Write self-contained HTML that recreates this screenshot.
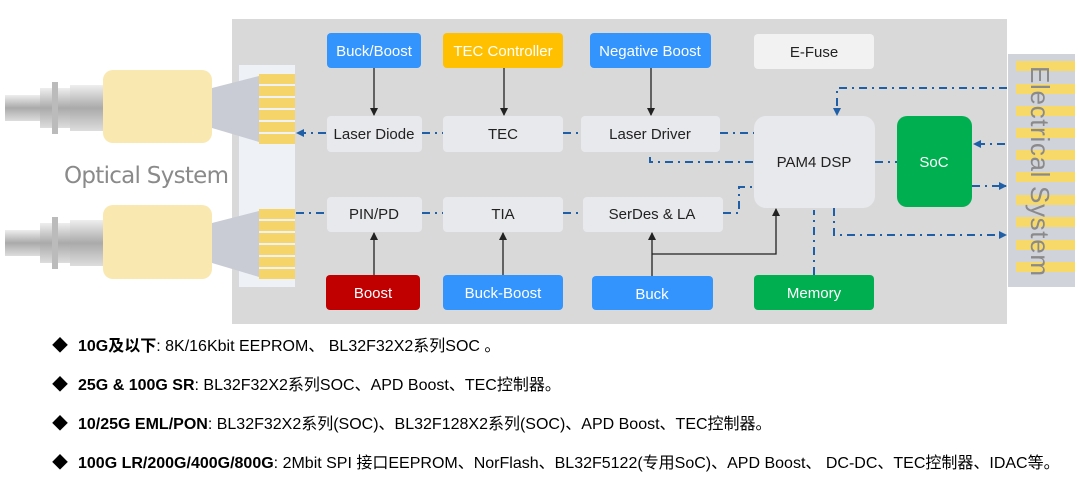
<!DOCTYPE html>
<html><head><meta charset="utf-8"><style>
html,body{margin:0;padding:0;background:#fff;}
svg{display:block;}
.b{font-family:"Liberation Sans","Noto Sans CJK SC",sans-serif;font-size:15px;text-anchor:middle;}
.t{font-family:"Liberation Sans","Noto Sans CJK SC",sans-serif;font-size:16px;fill:#000;}
</style></head><body>
<svg width="1080" height="490" viewBox="0 0 1080 490" xmlns="http://www.w3.org/2000/svg">
<defs>
<marker id="ab" markerWidth="8" markerHeight="8" refX="7" refY="4" orient="auto" markerUnits="userSpaceOnUse"><path d="M0,0 L8,4 L0,8 z" fill="#1f5fa8"/></marker>
<marker id="ak" markerWidth="8" markerHeight="8" refX="7" refY="4" orient="auto" markerUnits="userSpaceOnUse"><path d="M0,0 L8,4 L0,8 z" fill="#222"/></marker>
<linearGradient id="mt" x1="0" y1="0" x2="0" y2="1"><stop offset="0" stop-color="#eee"/><stop offset="0.5" stop-color="#aaa"/><stop offset="1" stop-color="#ddd"/></linearGradient>
</defs>
<rect x="232" y="19" width="775" height="305" fill="#d9d9d9"/>
<rect x="239" y="65" width="56" height="222" fill="#eef1f6"/>
<rect x="1008" y="54" width="67" height="233" fill="#d0d3da"/>
<g fill="#f7d96a">
<rect x="1016" y="61" width="59" height="10"/><rect x="1016" y="84" width="59" height="10"/><rect x="1016" y="106" width="59" height="10"/><rect x="1016" y="128" width="59" height="10"/><rect x="1016" y="150" width="59" height="10"/><rect x="1016" y="172" width="59" height="10"/><rect x="1016" y="195" width="59" height="10"/><rect x="1016" y="217" width="59" height="10"/><rect x="1016" y="240" width="59" height="10"/><rect x="1016" y="262" width="59" height="10"/>
</g>
<text transform="translate(1031,66) rotate(90)" font-family="Liberation Sans,DejaVu Sans,sans-serif" font-size="26" fill="#8a8a8a" textLength="210">Electrical System</text>
<g>
<rect x="5" y="95" width="40" height="26" fill="url(#mt)"/><rect x="40" y="88" width="30" height="40" fill="url(#mt)"/><rect x="52" y="82" width="6" height="52" fill="#bbb"/><rect x="70" y="85" width="33" height="46" fill="url(#mt)"/>
<rect x="103" y="70" width="109" height="73" rx="10" fill="#f9e8b0"/>
<path d="M212,88 L259,76 L259,142 L212,128 z" fill="#c9ccd4"/>
<rect x="5" y="230" width="40" height="26" fill="url(#mt)"/><rect x="40" y="223" width="30" height="40" fill="url(#mt)"/><rect x="52" y="217" width="6" height="52" fill="#bbb"/><rect x="70" y="220" width="33" height="46" fill="url(#mt)"/>
<rect x="103" y="205" width="109" height="74" rx="10" fill="#f9e8b0"/>
<path d="M212,223 L259,211 L259,277 L212,263 z" fill="#c9ccd4"/>
<g fill="#f5d469">
<rect x="259" y="74" width="36" height="10"/><rect x="259" y="86" width="36" height="10"/><rect x="259" y="98" width="36" height="10"/><rect x="259" y="110" width="36" height="10"/><rect x="259" y="122" width="36" height="10"/><rect x="259" y="134" width="36" height="10"/>
<rect x="259" y="209" width="36" height="10"/><rect x="259" y="221" width="36" height="10"/><rect x="259" y="233" width="36" height="10"/><rect x="259" y="245" width="36" height="10"/><rect x="259" y="257" width="36" height="10"/><rect x="259" y="269" width="36" height="10"/>
</g>
</g>
<text x="64" y="183" font-family="DejaVu Sans,Liberation Sans,sans-serif" font-size="23" fill="#8a8a8a" textLength="165">Optical System</text>
<g>
<rect x="327" y="33" width="94" height="35" rx="4" fill="#3394fe"/><text class="b" x="374" y="56" fill="#fff">Buck/Boost</text>
<rect x="443" y="33" width="120" height="35" rx="4" fill="#ffc000"/><text class="b" x="503" y="56" fill="#fff">TEC Controller</text>
<rect x="590" y="33" width="121" height="35" rx="4" fill="#3394fe"/><text class="b" x="650" y="56" fill="#fff">Negative Boost</text>
<rect x="754" y="34" width="120" height="35" rx="4" fill="#f2f2f2"/><text class="b" x="814" y="57" fill="#222">E-Fuse</text>
<rect x="327" y="116" width="95" height="36" rx="4" fill="#e8e9ec"/><text class="b" x="374" y="139" fill="#222">Laser Diode</text>
<rect x="443" y="116" width="120" height="36" rx="4" fill="#e8e9ec"/><text class="b" x="503" y="139" fill="#222">TEC</text>
<rect x="581" y="116" width="139" height="36" rx="4" fill="#e8e9ec"/><text class="b" x="650" y="139" fill="#222">Laser Driver</text>
<rect x="754" y="116" width="121" height="92" rx="12" fill="#e8e9ec"/><text class="b" x="814" y="167" fill="#222">PAM4 DSP</text>
<rect x="897" y="116" width="75" height="91" rx="10" fill="#00b050"/><text class="b" x="934" y="167" fill="#fff">SoC</text>
<rect x="327" y="197" width="95" height="35" rx="4" fill="#e8e9ec"/><text class="b" x="374" y="219" fill="#222">PIN/PD</text>
<rect x="443" y="197" width="120" height="35" rx="4" fill="#e8e9ec"/><text class="b" x="503" y="219" fill="#222">TIA</text>
<rect x="583" y="197" width="140" height="35" rx="4" fill="#e8e9ec"/><text class="b" x="652" y="219" fill="#222">SerDes &amp; LA</text>
<rect x="326" y="275" width="94" height="35" rx="4" fill="#c00000"/><text class="b" x="373" y="298" fill="#fff">Boost</text>
<rect x="443" y="275" width="120" height="35" rx="4" fill="#3394fe"/><text class="b" x="503" y="298" fill="#fff">Buck-Boost</text>
<rect x="592" y="276" width="121" height="34" rx="4" fill="#3394fe"/><text class="b" x="652" y="299" fill="#fff">Buck</text>
<rect x="754" y="275" width="120" height="35" rx="4" fill="#00b050"/><text class="b" x="814" y="298" fill="#fff">Memory</text>
</g>
<g stroke="#222" stroke-width="1.3" fill="none">
<line x1="374" y1="68" x2="374" y2="115" marker-end="url(#ak)"/>
<line x1="504" y1="68" x2="504" y2="115" marker-end="url(#ak)"/>
<line x1="651" y1="68" x2="651" y2="115" marker-end="url(#ak)"/>
<line x1="374" y1="275" x2="374" y2="233" marker-end="url(#ak)"/>
<line x1="503" y1="275" x2="503" y2="233" marker-end="url(#ak)"/>
<line x1="652" y1="276" x2="652" y2="233" marker-end="url(#ak)"/>
<polyline points="652,254 776,254 776,209" marker-end="url(#ak)"/>
</g>
<g stroke="#1f5fa8" stroke-width="2" fill="none" stroke-dasharray="8,5,2,5">
<line x1="326" y1="133" x2="297" y2="133" marker-end="url(#ab)"/>
<line x1="422" y1="133" x2="443" y2="133"/>
<line x1="563" y1="133" x2="581" y2="133"/>
<line x1="720" y1="133" x2="754" y2="133"/>
<polyline points="650,157 650,162 754,162"/>
<line x1="296" y1="213" x2="327" y2="213"/>
<line x1="422" y1="213" x2="443" y2="213"/>
<line x1="563" y1="213" x2="583" y2="213"/>
<polyline points="723,213 739,213 739,187 754,187"/>
<line x1="875" y1="162" x2="897" y2="162"/>
<polyline points="1007,88 837,88 837,115" marker-end="url(#ab)"/>
<line x1="1005" y1="144" x2="974" y2="144" marker-end="url(#ab)"/>
<line x1="972" y1="186" x2="1006" y2="186" marker-end="url(#ab)"/>
<polyline points="834,208 834,235 1006,235" marker-end="url(#ab)"/>
<line x1="814" y1="275" x2="814" y2="210"/>
</g>
<g class="t">
<text x="52" y="351">◆</text><text x="78" y="351"><tspan font-weight="bold">10G及以下</tspan>: 8K/16Kbit EEPROM、 BL32F32X2系列SOC 。</text>
<text x="52" y="390">◆</text><text x="78" y="390"><tspan font-weight="bold">25G &amp; 100G SR</tspan>: BL32F32X2系列SOC、APD Boost、TEC控制器。</text>
<text x="52" y="429">◆</text><text x="78" y="429"><tspan font-weight="bold">10/25G EML/PON</tspan>:  BL32F32X2系列(SOC)、BL32F128X2系列(SOC)、APD Boost、TEC控制器。</text>
<text x="52" y="468">◆</text><text x="78" y="468"><tspan font-weight="bold">100G LR/200G/400G/800G</tspan>: 2Mbit SPI 接口EEPROM、NorFlash、BL32F5122(专用SoC)、APD Boost、 DC-DC、TEC控制器、IDAC等。</text>
</g>
</svg>
</body></html>
